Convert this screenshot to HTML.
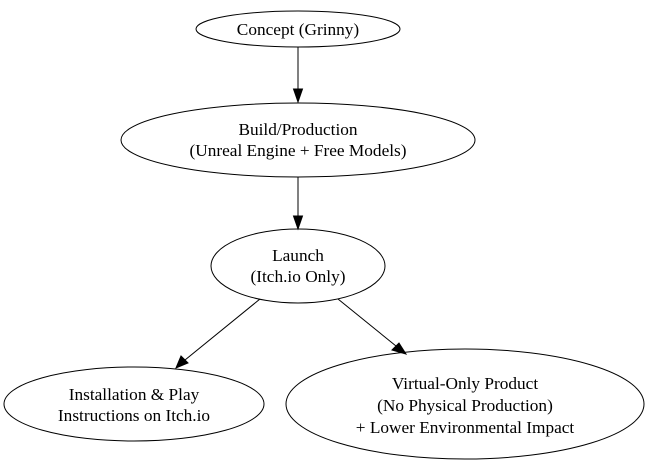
<!DOCTYPE html>
<html><head><style>html,body{margin:0;padding:0;background:#fff;}svg{display:block}</style></head>
<body>
<svg width="650" height="466" viewBox="0 0 650 466" xmlns="http://www.w3.org/2000/svg" font-family="Liberation Serif, serif" font-size="17.3" text-anchor="middle">
<rect width="650" height="466" fill="#fff"/>
<g fill="none" stroke="#000" stroke-width="1">
<ellipse cx="298" cy="29" rx="102" ry="18"/>
<ellipse cx="298" cy="140" rx="177" ry="37"/>
<ellipse cx="298" cy="266" rx="87" ry="37"/>
<ellipse cx="134" cy="404" rx="130" ry="37"/>
<ellipse cx="465" cy="404" rx="179" ry="55"/>
<line x1="298" y1="47" x2="298" y2="90"/>
<line x1="298" y1="177" x2="298" y2="218"/>
<line x1="260" y1="299" x2="185" y2="360"/>
<line x1="338" y1="299" x2="396" y2="346"/>
</g>
<g fill="#000" stroke="#000">
<polygon points="293.5,89 302.5,89 298,102"/>
<polygon points="293.5,216 302.5,216 298,229"/>
<polygon points="181,356 188,363 176,368"/>
<polygon points="392,350 399,343 406,354"/>
</g>
<g fill="#000">
<text x="298" y="35">Concept (Grinny)</text>
<text x="298" y="135">Build/Production</text>
<text x="298" y="156">(Unreal Engine + Free Models)</text>
<text x="298" y="261">Launch</text>
<text x="298" y="282">(Itch.io Only)</text>
<text x="134" y="400">Installation &amp; Play</text>
<text x="134" y="421">Instructions on Itch.io</text>
<text x="465" y="389">Virtual-Only Product</text>
<text x="465" y="411">(No Physical Production)</text>
<text x="465" y="433">+ Lower Environmental Impact</text>
</g>
</svg>
</body></html>
